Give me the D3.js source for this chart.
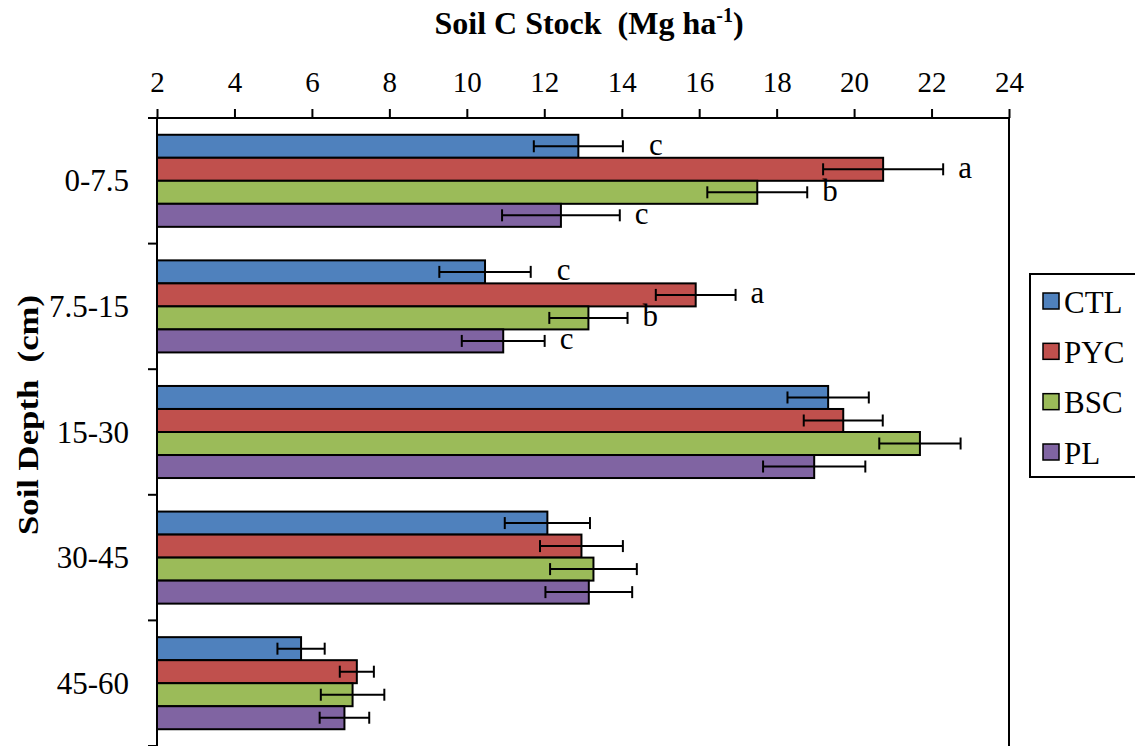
<!DOCTYPE html>
<html>
<head>
<meta charset="utf-8">
<script src="https://cdn.jsdelivr.net/npm/d3@7/dist/d3.min.js"></script>
<style>
  html, body { margin: 0; padding: 0; background: #fff; }
  svg { display: block; }
  text { font-family: "Liberation Serif", "Times New Roman", serif; fill: #000; }
</style>
</head>
<body>
<svg id="chart" width="1135" height="746"></svg>
<script>
// Soil depth classes and treatments
const depths = ["0-7.5", "7.5-15", "15-30", "30-45", "45-60"];
const treatments = ["CTL", "PYC", "BSC", "PL"];
const colors = ["#4F81BD", "#C0504D", "#9BBB59", "#8064A2"];

// Mean soil C stock (Mg ha-1) per depth
const ctl = [12.88, 10.47, 19.33, 12.08, 5.72];
const pyc = [20.75, 15.91, 19.72, 12.96, 7.16];
const bsc = [17.50, 13.14, 21.70, 13.27, 7.05];
const pl  = [12.43, 10.94, 18.97, 13.15, 6.84];

// Standard errors
const ctlErr = [1.15, 1.18, 1.05, 1.10, 0.61];
const pycErr = [1.55, 1.03, 1.02, 1.07, 0.44];
const bscErr = [1.29, 1.01, 1.05, 1.12, 0.82];
const plErr  = [1.52, 1.07, 1.32, 1.12, 0.64];

// Significance letters
const ctlLetters = ["c", "c", "", "", ""];
const pycLetters = ["a", "a", "", "", ""];
const bscLetters = ["b", "b", "", "", ""];
const plLetters  = ["c", "c", "", "", ""];

const xTicks = [2, 4, 6, 8, 10, 12, 14, 16, 18, 20, 22, 24];

const values = [ctl, pyc, bsc, pl];
const errors = [ctlErr, pycErr, bscErr, plErr];
const letters = [ctlLetters, pycLetters, bscLetters, plLetters];

const rows = [];
depths.forEach((d, i) => {
  treatments.forEach((t, j) => {
    rows.push({ depth: d, treatment: t, color: colors[j],
                value: values[j][i], err: errors[j][i], letter: letters[j][i] });
  });
});

const svg = d3.select("#chart");
const plotLeft = 157, plotRight = 1009, plotTop = 118, plotBottom = 746;

const x = d3.scaleLinear().domain([2, 24]).range([plotLeft, plotRight]);
const y = d3.scaleBand().domain(depths).range([plotTop, plotBottom])
  .paddingInner(0.267).paddingOuter(0.1335);
const yInner = d3.scaleBand().domain(treatments).range([0, y.bandwidth()]);

// plot frame
svg.append("rect")
  .attr("x", plotLeft).attr("y", plotTop)
  .attr("width", plotRight - plotLeft).attr("height", plotBottom - plotTop + 1)
  .attr("fill", "none").attr("stroke", "#000").attr("stroke-width", 2);

// bars
svg.append("g").selectAll("rect").data(rows).join("rect")
  .attr("x", x(2))
  .attr("y", d => y(d.depth) + yInner(d.treatment))
  .attr("width", d => x(d.value) - x(2))
  .attr("height", yInner.bandwidth())
  .attr("fill", d => d.color)
  .attr("stroke", "#000").attr("stroke-width", 2);

// error bars
const eb = svg.append("g").attr("stroke", "#000").attr("stroke-width", 2);
rows.forEach(d => {
  const cy = y(d.depth) + yInner(d.treatment) + yInner.bandwidth() / 2;
  const x0 = x(d.value - d.err), x1 = x(d.value + d.err);
  eb.append("line").attr("x1", x0).attr("x2", x1).attr("y1", cy).attr("y2", cy);
  eb.append("line").attr("x1", x0).attr("x2", x0).attr("y1", cy - 6).attr("y2", cy + 6);
  eb.append("line").attr("x1", x1).attr("x2", x1).attr("y1", cy - 6).attr("y2", cy + 6);
});

// significance letters
svg.append("g").selectAll("text").data(rows.filter(d => d.letter)).join("text")
  .attr("x", d => x(d.value + d.err) + (d.treatment === "CTL" ? 26 : 15))
  .attr("y", d => y(d.depth) + yInner(d.treatment) + yInner.bandwidth() / 2 - 2)
  .attr("dominant-baseline", "central")
  .style("font-size", "31px")
  .text(d => d.letter);

// top axis
const xAxis = svg.append("g").attr("transform", `translate(0,${plotTop})`)
  .call(d3.axisTop(x).tickValues(xTicks).tickSize(9).tickPadding(17).tickFormat(d3.format("d")));
xAxis.select(".domain").attr("stroke-width", 2).attr("d", `M${plotLeft - 4},0H${plotRight}`);
xAxis.selectAll(".tick line").attr("stroke-width", 2);
xAxis.selectAll(".tick text").style("font-size", "29px")
  .style("font-family", "'Liberation Serif', 'Times New Roman', serif");

// left axis: labels at band centres, ticks at band boundaries
const step = y.step();
const bounds = depths.map(d => y(d) - step * y.paddingInner() / 2).concat([plotBottom]);
const yAxisG = svg.append("g");
yAxisG.append("line").attr("x1", plotLeft).attr("x2", plotLeft).attr("y1", plotTop).attr("y2", plotBottom)
  .attr("stroke", "#000").attr("stroke-width", 2);
yAxisG.selectAll("line.tk").data(bounds).join("line").attr("class", "tk")
  .attr("x1", plotLeft - 9).attr("x2", plotLeft).attr("y1", d => d).attr("y2", d => d)
  .attr("stroke", "#000").attr("stroke-width", 2);
yAxisG.selectAll("text").data(depths).join("text")
  .attr("x", plotLeft - 28)
  .attr("y", d => y(d) + y.bandwidth() / 2)
  .attr("text-anchor", "end").attr("dominant-baseline", "central")
  .style("font-size", "31px")
  .text(d => d);

// axis titles
const title = svg.append("text")
  .attr("x", 589).attr("y", 34)
  .attr("text-anchor", "middle")
  .style("font-size", "32px").style("font-weight", "bold").style("white-space", "pre");
title.append("tspan").text("Soil C Stock  (Mg ha");
title.append("tspan").attr("dy", -12).style("font-size", "20px").text("-1");
title.append("tspan").attr("dy", 12).text(")");

svg.append("text")
  .attr("transform", "translate(38,415) rotate(-90)")
  .attr("text-anchor", "middle")
  .attr("textLength", 240).attr("lengthAdjust", "spacingAndGlyphs")
  .style("font-size", "29px").style("font-weight", "bold").style("white-space", "pre")
  .text("Soil Depth  (cm)");

// legend
const lg = svg.append("g");
lg.append("rect").attr("x", 1030).attr("y", 274).attr("width", 120).attr("height", 203)
  .attr("fill", "#fff").attr("stroke", "#000").attr("stroke-width", 2);
const legendY = d3.scalePoint().domain(treatments).range([301, 452]);
treatments.forEach((t, j) => {
  const cy = legendY(t);
  lg.append("rect").attr("x", 1043).attr("y", cy - 8).attr("width", 16).attr("height", 16)
    .attr("fill", colors[j]).attr("stroke", "#000").attr("stroke-width", 1.5);
  lg.append("text").attr("x", 1064).attr("y", cy + 1)
    .attr("dominant-baseline", "central")
    .style("font-size", "31px").text(t);
});
</script>
</body>
</html>
